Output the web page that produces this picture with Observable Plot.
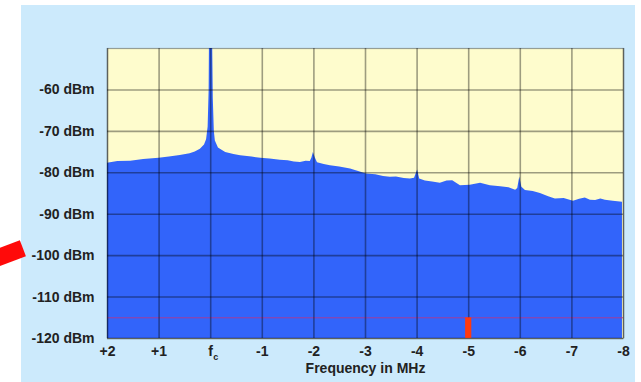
<!DOCTYPE html>
<html>
<head>
<meta charset="utf-8">
<script src="https://cdn.jsdelivr.net/npm/d3@7"></script>
<script src="https://cdn.jsdelivr.net/npm/@observablehq/plot@0.6"></script>
<style>
  html, body { margin: 0; padding: 0; background: #ffffff; }
  #wrap { position: relative; width: 641px; height: 382px; overflow: hidden; }
  #panel { position: absolute; left: 21px; top: 5px; width: 614px; height: 377px; background: #cceafc; }
  #chart { position: absolute; left: 0; top: 0; }
</style>
</head>
<body>
<div id="wrap"><div id="panel"></div><div id="chart"></div></div>
<script>
// Spectrum trace: frequency offset (MHz) and level (dBm)
const freqs = [2.0, 1.8, 1.55, 1.3, 1.0, 0.8, 0.59, 0.4, 0.3, 0.2, 0.12, 0.08, 0.05, 0.03, 0.02, -0.03, -0.05, -0.07, -0.09, -0.15, -0.29, -0.45, -0.58, -0.8, -0.97, -1.15, -1.35, -1.5, -1.62, -1.74, -1.85, -1.93, -1.96, -1.99, -2.03, -2.07, -2.2, -2.32, -2.5, -2.71, -2.85, -3.02, -3.2, -3.35, -3.48, -3.6, -3.75, -3.87, -3.95, -4.01, -4.05, -4.16, -4.3, -4.45, -4.58, -4.69, -4.84, -5.03, -5.23, -5.42, -5.62, -5.78, -5.91, -5.95, -5.99, -6.03, -6.1, -6.25, -6.39, -6.55, -6.68, -6.85, -7.03, -7.15, -7.26, -7.36, -7.46, -7.56, -7.65, -7.8, -7.98];
const levels = [-77.7, -77.3, -77.2, -76.8, -76.5, -76.2, -75.8, -75.4, -75.0, -74.3, -73.3, -72.0, -69, -60, -40, -40, -62, -70, -72.3, -74, -75.1, -75.6, -75.9, -76.2, -76.5, -76.7, -77.0, -77.1, -77.4, -77.5, -77.2, -77.3, -76.5, -75.1, -76.5, -77.6, -78.0, -78.3, -78.6, -79.1, -79.6, -80.3, -80.5, -80.9, -81.1, -81.0, -81.4, -81.5, -81.3, -79.3, -81.5, -82.0, -82.2, -82.5, -82.0, -81.9, -83.1, -83.0, -82.5, -83.1, -83.4, -83.6, -84.2, -83.8, -81.0, -83.5, -84.3, -84.5, -85.0, -85.8, -86.3, -86.2, -86.9, -86.4, -86.1, -86.6, -86.7, -86.3, -86.6, -86.9, -87.1];
const spectrum = freqs.map((f, i) => ({f, db: levels[i]}));

// Axis ticks
const xTicks = [2, 1, 0, -1, -2, -3, -4, -5, -6, -7, -8];
const yTicks = [-60, -70, -80, -90, -100, -110, -120];
const xTitle = "Frequency in MHz";

// Annotations
const noiseFloor = [-115];               // reference line level (dBm)
const markerFreq = [{f: -5, lo: -120, hi: -115}]; // red marker at -5 MHz
const pointer = [{x1: 4.4, y1: -101.8, x2: 3.64, y2: -98.2}]; // red pointer toward -100 dBm

const font = "'Liberation Sans', Arial, sans-serif";

const chart = Plot.plot({
  width: 641,
  height: 382,
  marginLeft: 107,
  marginRight: 18,
  marginTop: 48,
  marginBottom: 44,
  style: {background: "transparent", fontFamily: font, fontWeight: "bold", fontSize: "14px", color: "#222"},
  x: {domain: [2, -8], ticks: xTicks},
  y: {domain: [-120, -50], ticks: yTicks},
  marks: [
    Plot.frame({fill: "#fefccd"}),
    Plot.areaY(spectrum, {x: "f", y1: -120, y2: "db", fill: "#3264fa", clip: true}),
    Plot.ruleY(noiseFloor, {stroke: "#c8307a", strokeOpacity: 0.75, strokeWidth: 1}),
    Plot.gridX(xTicks, {stroke: "#000", strokeOpacity: 0.38, strokeWidth: 1.6}),
    Plot.gridY(yTicks, {stroke: "#000", strokeOpacity: 0.38, strokeWidth: 1.6}),
    Plot.rectY(markerFreq, {x1: d => d.f + 0.06, x2: d => d.f - 0.06, y1: "lo", y2: "hi", fill: "#ff3a10"}),
    Plot.frame({stroke: "#000", strokeOpacity: 0.35, strokeWidth: 1.2}),
    Plot.axisY(yTicks, {tickSize: 0, tickPadding: 13, tickFormat: d => `${d} dBm`, label: null, fontSize: 14, fontWeight: "bold", fill: "#222"}),
    Plot.axisX(xTicks, {tickSize: 0, tickPadding: 8, tickFormat: d => d > 0 ? `+${d}` : d === 0 ? "f" : `${d}`, label: null, fontSize: 14, fontWeight: "bold", fill: "#222"}),
    Plot.text([0], {x: d => d, frameAnchor: "bottom", dx: 5, dy: 21, text: () => "c", fontSize: 9, fontWeight: "bold", fill: "#222"}),
    Plot.text([xTitle], {frameAnchor: "bottom", dy: 34, text: d => d, fontSize: 14, fontWeight: "bold", fill: "#222"}),
    Plot.link(pointer, {x1: "x1", y1: "y1", x2: "x2", y2: "y2", stroke: "#ff0a0a", strokeWidth: 17, strokeLinecap: "butt", clip: false})
  ]
});
document.getElementById("chart").appendChild(chart);
</script>
</body>
</html>
